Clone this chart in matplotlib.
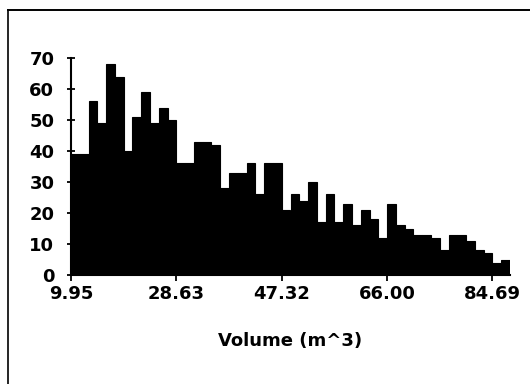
import matplotlib
matplotlib.use("Agg")
import matplotlib.pyplot as plt
from matplotlib.lines import Line2D

# histogram of volumes - 50 bins from 9.95
start = 9.95
bin_width = (84.69 - 9.95) / 48
counts = [39, 39, 56, 49, 68, 64, 40, 51, 59, 49, 54, 50,
          36, 36, 43, 43, 42, 28, 33, 33, 36, 26, 36, 36,
          21, 26, 24, 30, 17, 26, 17, 23, 16, 21, 18, 12,
          23, 16, 15, 13, 13, 12, 8, 13, 13, 11, 8, 7,
          4, 5]
tick_values = [9.95, 28.63, 47.32, 66.00, 84.69]
tick_labels = ["9.95", "28.63", "47.32", "66.00", "84.69"]
y_ticks = [0, 10, 20, 30, 40, 50, 60, 70]

edges = [start + i * bin_width for i in range(len(counts))]

plt.rcParams["font.family"] = ["DejaVu Sans"]
plt.rcParams["font.weight"] = "bold"

fig = plt.figure(figsize=(5.3, 3.84), dpi=100)
ax = fig.add_axes([71 / 530, 109 / 384, 439 / 530, 217 / 384])

ax.bar(edges, counts, width=bin_width, align="edge",
       color="black", edgecolor="black", linewidth=0.8)

ax.set_xlim(start, start + bin_width * len(counts))
ax.set_ylim(0, 70)
ax.set_xticks(tick_values)
ax.set_xticklabels(tick_labels)
ax.set_yticks(y_ticks)

for side in ["top", "right"]:
    ax.spines[side].set_visible(False)
for side in ["left", "bottom"]:
    ax.spines[side].set_linewidth(1.5)

ax.tick_params(axis="y", direction="inout", length=6, width=1.3,
               labelsize=13, pad=9)
ax.tick_params(axis="x", direction="out", length=4, width=1.3,
               labelsize=13, pad=3)

fig.text(290 / 530, 1 - 341 / 384, "Volume (m^3)", fontsize=13,
         ha="center", va="center")

# frame around the chart (only top and left edges show)
fig.add_artist(Line2D([7.5 / 530, 7.5 / 530], [0, 1 - 10 / 384],
                      transform=fig.transFigure, color="black", lw=1.2))
fig.add_artist(Line2D([7.5 / 530, 1], [1 - 10 / 384, 1 - 10 / 384],
                      transform=fig.transFigure, color="black", lw=1.4))

plt.savefig("out.png", dpi=100)
